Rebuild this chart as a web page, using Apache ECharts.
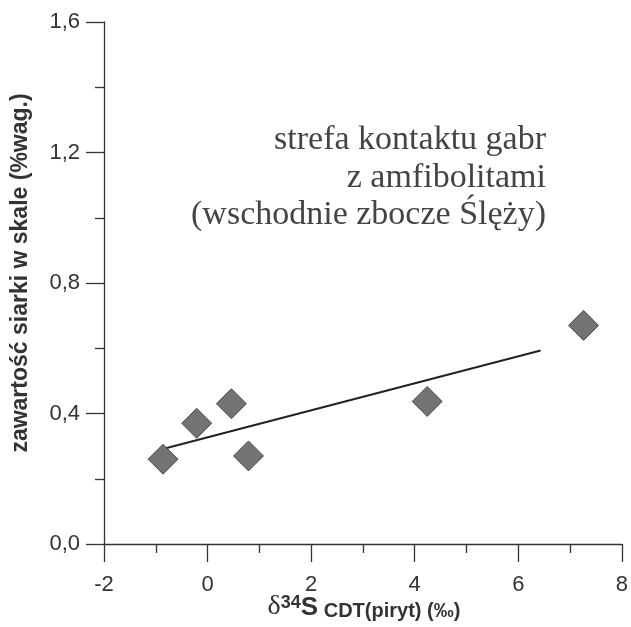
<!DOCTYPE html>
<html>
<head>
	<meta charset="utf-8">
	<title>zawartość siarki</title>
	<script src="https://cdn.jsdelivr.net/npm/echarts@6/dist/echarts.min.js"></script>
	<style>
		html, body { margin: 0; padding: 0; background: #fff; }
		#chart { width: 631px; height: 627px; }
	</style>
</head>
<body>
	<div id="chart"></div>
	<script>
	// punkty pomiarowe: delta34S (‰) i zawartość S (%wag.)
	var deltaS = [-0.86, -0.21, 0.46, 0.79, 4.24, 7.26];
	var sulfur = [0.26, 0.37, 0.43, 0.27, 0.437, 0.67];
	// linia trendu (końce)
	var trendX = [-0.79, 6.43];
	var trendY = [0.294, 0.593];
	var noteLines = ['strefa kontaktu gabr', 'z amfibolitami', '(wschodnie zbocze Ślęży)'];

	function comma(v) {
		return v.toFixed(1).replace('.', ',');
	}

	var tickStyle = { color: '#333', width: 1.3 };
	var noteY = [140, 178, 215];
	var graphics = noteLines.map(function (t, i) {
		return {
			type: 'text',
			x: 546,
			y: noteY[i],
			style: {
				text: t,
				align: 'right',
				verticalAlign: 'middle',
				fontSize: 34,
				fontFamily: 'Liberation Serif',
				fill: '#444'
			}
		};
	});
	// opis osi Y
	graphics.push({
		type: 'text',
		x: 21,
		y: 273,
		rotation: Math.PI / 2,
		style: {
			text: 'zawartość siarki w skale (%wag.)',
			align: 'center',
			verticalAlign: 'middle',
			fontSize: 23,
			fontWeight: 'bold',
			fontFamily: 'Liberation Sans',
			fill: '#333'
		}
	});
	// opis osi X
	graphics.push({
		type: 'text',
		x: 364,
		y: 607,
		style: {
			text: '{d|δ}{sup|34}{s|S}{sub| CDT(piryt) (‰)}',
			align: 'center',
			verticalAlign: 'middle',
			rich: {
				d: { fontSize: 28, fontFamily: 'Liberation Serif', fill: '#333', verticalAlign: 'bottom' },
				sup: { fontSize: 18, fontWeight: 'bold', fontFamily: 'Liberation Sans', fill: '#333', padding: [0, 0, 9, 0], verticalAlign: 'bottom' },
				s: { fontSize: 26, fontWeight: 'bold', fontFamily: 'Liberation Sans', fill: '#333', verticalAlign: 'bottom' },
				sub: { fontSize: 20, fontWeight: 'bold', fontFamily: 'Liberation Sans', fill: '#333', verticalAlign: 'bottom' }
			}
		}
	});

	var chart = echarts.init(document.getElementById('chart'));
	chart.setOption({
		animation: false,
		grid: { left: 104, right: 6, top: 22, bottom: 83 },
		xAxis: {
			type: 'value',
			min: -2, max: 8, interval: 2,
			axisLine: { onZero: false, lineStyle: tickStyle },
			axisTick: { length: 18, lineStyle: tickStyle },
			minorTick: { show: true, splitNumber: 2, length: 9, lineStyle: tickStyle },
			splitLine: { show: false },
			axisLabel: { margin: 30, fontSize: 22, color: '#333', fontFamily: 'Liberation Sans' }
		},
		yAxis: {
			type: 'value',
			min: 0, max: 1.6, interval: 0.4,
			axisLine: { show: true, onZero: false, lineStyle: tickStyle },
			axisTick: { show: true, length: 18, lineStyle: tickStyle },
			minorTick: { show: true, splitNumber: 2, length: 9, lineStyle: tickStyle },
			splitLine: { show: false },
			axisLabel: { margin: 24, fontSize: 22, color: '#333', fontFamily: 'Liberation Sans', formatter: comma }
		},
		graphic: graphics,
		series: [{
			type: 'scatter',
			data: deltaS.map(function (x, i) { return [x, sulfur[i]]; }),
			symbol: 'diamond',
			symbolSize: [30, 30],
			itemStyle: { color: '#505050', borderColor: '#333', borderWidth: 1 },
			z: 2
		}, {
			type: 'line',
			data: trendX.map(function (x, i) { return [x, trendY[i]]; }),
			symbol: 'none',
			lineStyle: { color: '#222', width: 2 },
			z: 3
		}]
	});
	</script>
</body>
</html>
